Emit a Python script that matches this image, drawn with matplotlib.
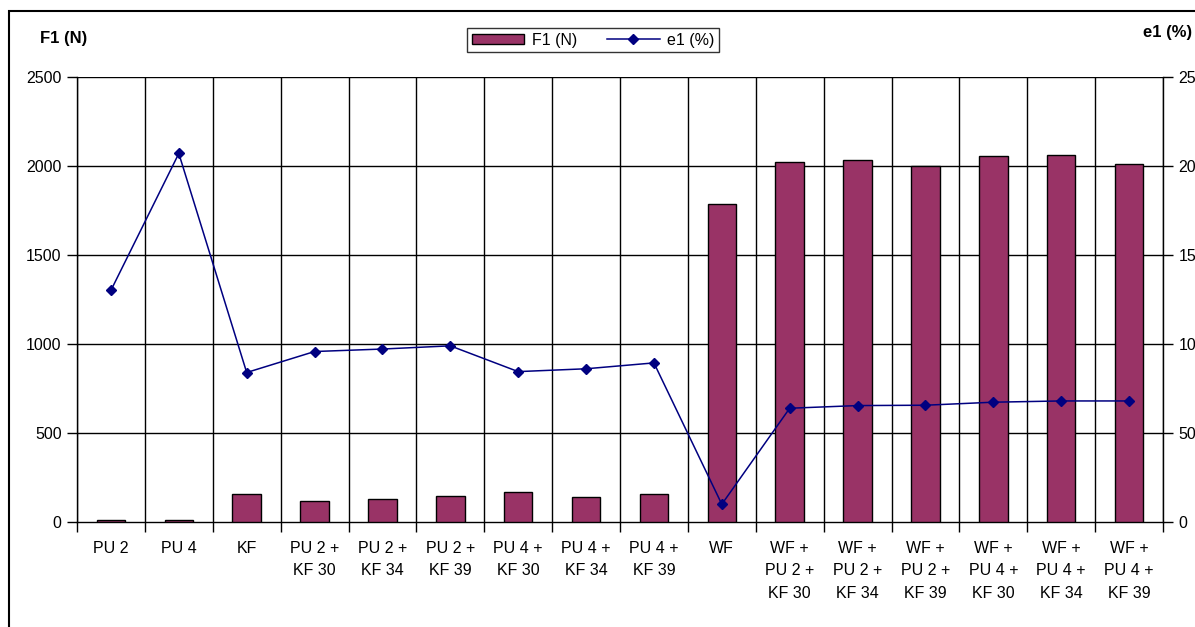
import numpy as np
import matplotlib.pyplot as plt
from matplotlib.patches import Rectangle

plt.rcParams['font.family'] = ['Liberation Sans', 'DejaVu Sans']

# chart data
categories = ['PU 2', 'PU 4', 'KF', 'PU 2 +\nKF 30', 'PU 2 +\nKF 34',
              'PU 2 +\nKF 39', 'PU 4 +\nKF 30', 'PU 4 +\nKF 34', 'PU 4 +\nKF 39',
              'WF', 'WF +\nPU 2 +\nKF 30', 'WF +\nPU 2 +\nKF 34',
              'WF +\nPU 2 +\nKF 39', 'WF +\nPU 4 +\nKF 30', 'WF +\nPU 4 +\nKF 34',
              'WF +\nPU 4 +\nKF 39']
f1 = [6, 6, 152, 118, 126, 145, 167, 135, 152,
      1786, 2023, 2032, 2000, 2057, 2063, 2008]
e1 = [13.0, 20.7, 8.38, 9.56, 9.70, 9.88, 8.43, 8.59, 8.92,
      0.97, 6.37, 6.52, 6.54, 6.71, 6.78, 6.78]
left_ticks = [0, 500, 1000, 1500, 2000, 2500]
right_ticks = [0, 5, 10, 15, 20, 25]
right_tick_labels = ['0', '50', '10', '15', '20', '25']

bar_color = '#993366'
line_color = '#000080'
fs = 11.5

fig = plt.figure(figsize=(11.95, 6.27), dpi=100)
ax = fig.add_axes([77 / 1195, 1 - 521.5 / 627, 1086 / 1195, 444.5 / 627])
x = np.arange(len(categories))

ax.bar(x, f1, width=0.42, color=bar_color, edgecolor='black',
       linewidth=1.0, zorder=3, label='F1 (N)')
ax.set_xlim(-0.5, len(categories) - 0.5)
ax.set_ylim(0, 2500)
ax.set_yticks(left_ticks)
ax.set_yticklabels([str(t) for t in left_ticks], fontsize=fs)

# category boundaries carry the ticks and vertical grid lines
bounds = np.arange(-0.5, len(categories), 1.0)
ax.set_xticks(bounds)
ax.set_xticklabels([])
ax.set_xticks(x, minor=True)
ax.set_xticklabels(categories, minor=True, fontsize=fs, linespacing=1.62,
                   va='top')
ax.tick_params(axis='x', which='minor', length=0, pad=14)
ax.tick_params(axis='x', which='major', length=7, width=1, direction='out')
ax.tick_params(axis='y', length=7, width=1, direction='out', pad=4)
for b in bounds:
    ax.axvline(b, color='black', linewidth=1, zorder=1)
for t in left_ticks[1:]:
    ax.axhline(t, color='black', linewidth=1, zorder=1)
for s in ['top', 'right']:
    ax.spines[s].set_visible(False)
for s in ['left', 'bottom']:
    ax.spines[s].set_linewidth(1)

ax2 = ax.twinx()
ax2.plot(x, e1, color=line_color, linewidth=1.1, marker='D', markersize=5.5,
         zorder=4, label='e1 (%)')
ax2.set_ylim(0, 25)
ax2.set_yticks(right_ticks)
ax2.set_yticklabels(right_tick_labels, fontsize=fs)
ax2.tick_params(axis='y', length=7, width=1, direction='out', pad=4)
for s in ['top', 'left', 'bottom']:
    ax2.spines[s].set_visible(False)
ax2.spines['right'].set_linewidth(1)

fig.text(40 / 1195, 1 - 38 / 627, 'F1 (N)', fontsize=12, fontweight='bold',
         va='center', ha='left')
fig.text(1192 / 1195, 1 - 33 / 627, 'e1 (%)', fontsize=12, fontweight='bold',
         va='center', ha='right')

h1, l1 = ax.get_legend_handles_labels()
h2, l2 = ax2.get_legend_handles_labels()
leg = fig.legend(h1 + h2, l1 + l2, loc='center', ncol=2,
                 bbox_to_anchor=(593 / 1195, 1 - 40 / 627), fontsize=fs,
                 frameon=True, fancybox=False, edgecolor='black',
                 handlelength=3.3, handleheight=0.6, columnspacing=1.9,
                 borderpad=0.3, handletextpad=0.45)
leg.get_frame().set_linewidth(1)

# outer chart border (only left and top edges visible in the image)
fig.patches.append(Rectangle((9 / 1195, -0.1), 1.2, 1 - 11 / 627 + 0.1,
                             transform=fig.transFigure, fill=False,
                             edgecolor='black', linewidth=1.5))

fig.savefig('out.png', dpi=100)
